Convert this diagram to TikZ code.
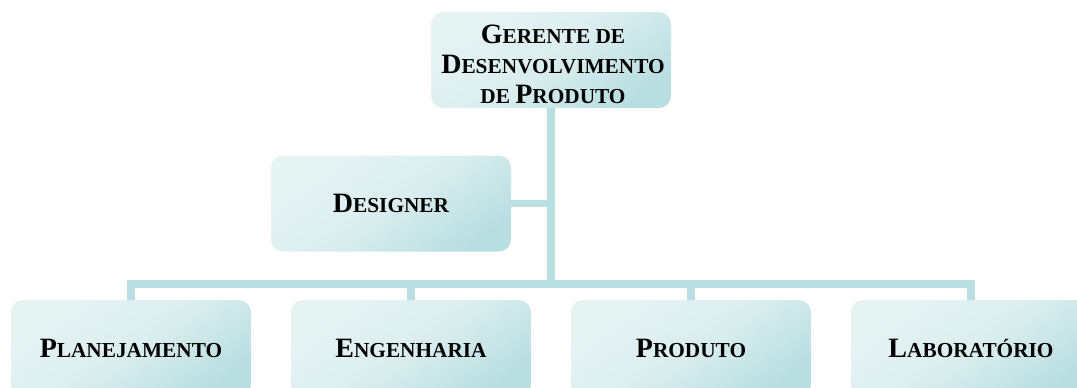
\documentclass[tikz,border=0pt]{standalone}
\usepackage{fontspec}
\setmainfont{Liberation Serif}
\newcommand\capL[1]{{\fontsize{28pt}{30pt}\selectfont #1}}
\newcommand\smL[1]{{\fontsize{21.3pt}{30pt}\selectfont #1}}
\definecolor{boxlight}{HTML}{E6F3F3}
\definecolor{boxdark}{HTML}{B9DEE1}
\definecolor{linec}{HTML}{BADFE2}
\tikzset{
  orgbox/.style={rounded corners=12pt, minimum width=240pt, minimum height=96pt,
    inner sep=0pt, top color=boxlight, bottom color=boxdark, middle color=boxlight!75!boxdark,
    shading angle=35, font=\bfseries\fontsize{21.3pt}{30pt}\selectfont, align=center, text=black},
  conn/.style={draw=linec, line width=7.5pt, line join=miter, line cap=butt}
}
\begin{document}
\begin{tikzpicture}[x=1pt,y=-1pt]
\useasboundingbox (0,0) rectangle (1077,388);
\clip (0,0) rectangle (1077,388);
\coordinate (bar) at (0,284);
\node[orgbox] (top) at (551,60) {};
\node[align=center, inner sep=0pt, font=\bfseries\fontsize{21.3pt}{30pt}\selectfont] (toptext) at (553,64) {\capL{G}\smL{ERENTE DE}\\\capL{D}\smL{ESENVOLVIMENTO}\\\smL{DE }\capL{P}\smL{RODUTO}};
\node[orgbox] (des) at (391,203.5) {\capL{D}\smL{ESIGNER}};
\node[orgbox] (plan) at (131,348) {\capL{P}\smL{LANEJAMENTO}};
\node[orgbox] (eng) at (411,348) {\capL{E}\smL{NGENHARIA}};
\node[orgbox] (prod) at (691,348) {\capL{P}\smL{RODUTO}};
\node[orgbox] (lab) at (971,348) {\capL{L}\smL{ABORATÓRIO}};
\draw[conn] (top.south) -- (top.south |- bar);
\draw[conn] (des.east) -- (des.east -| top.south);
\draw[conn] (plan.north) -- (plan.north |- bar) -- (lab.north |- bar) -- (lab.north);
\draw[conn] (eng.north) -- (eng.north |- bar);
\draw[conn] (prod.north) -- (prod.north |- bar);
\end{tikzpicture}
\end{document}
